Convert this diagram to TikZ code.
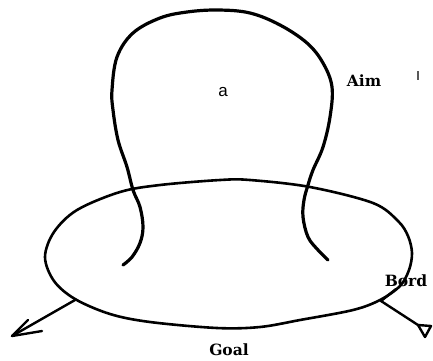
\documentclass[tikz,border=0pt]{standalone}
\usepackage{fontspec}
\setmainfont{DejaVu Serif}
\newfontfamily\labelsans{Liberation Sans}
\usetikzlibrary{arrows.meta}
\tikzset{
  blobline/.style={line width=3.2pt, line cap=round, line join=round},
  ovalline/.style={line width=2.6pt, line cap=round, line join=round},
  arrline/.style={line width=2.4pt, line cap=round, line join=round},
  lbl/.style={font=\fontsize{15.5}{18}\selectfont\bfseries, anchor=base, inner sep=0pt},
}
\begin{document}
\begin{tikzpicture}[x=1pt, y=-1pt]
\useasboundingbox (0,0) rectangle (433,360);
% oval (Goal region)
\draw[ovalline] plot[smooth cycle, tension=0.55] coordinates {
  (45,257) (54,281) (75,299) (110,314) (150,322) (217,328) (260,327)
  (300,320) (353,310) (380,300) (400,286) (409,270) (412,253)
  (408,236) (398,221) (373,203) (310,187) (250,180) (220,180)
  (160,185) (120,192) (77,210) (54,232)};
% aim blob
\draw[blobline] plot[smooth, tension=0.6] coordinates {
  (123,265) (132,257) (140,243) (143,227) (140,207) (133,190) (127,167)
  (118,140) (113,110) (112,90) (117,57) (133,33) (160,18) (187,12)
  (218,10) (250,13) (280,25) (307,43) (323,63) (332,87) (330,117)
  (323,147) (313,170) (308,185) (304,200) (303,217) (308,237)
  (318,250) (328,260)};
% labels
\node[font=\labelsans\fontsize{17}{19}\selectfont, anchor=base, inner sep=0pt] (la) at (223,96) {a};
\node[lbl] (aim) at (364,86) {Aim};
\node[lbl] (bord) at (406,286) {Bord};
\node[lbl] (goal) at (229,355) {Goal};
% stray mark
\draw[line width=1.6pt, black!65] (418,71) -- (418,80);
% connectors
\coordinate (lj) at (75,300);
\coordinate (ltip) at (12,336);
\coordinate (lb1) at (28,320);
\coordinate (lb2) at (42,331);
\draw[arrline] (lj) -- (ltip);
\draw[arrline] (lb1) -- (ltip) -- (lb2);
\coordinate (rj) at (381,301);
\coordinate (bl) at (396,289);
\coordinate (rt) at (418,325);
\coordinate (rt1) at (431,326);
\coordinate (rt2) at (425,337);
\draw[arrline] (bl) -- (rj) -- (rt);
\draw[arrline] (rt) -- (rt1) -- (rt2) -- cycle;
\end{tikzpicture}
\end{document}
